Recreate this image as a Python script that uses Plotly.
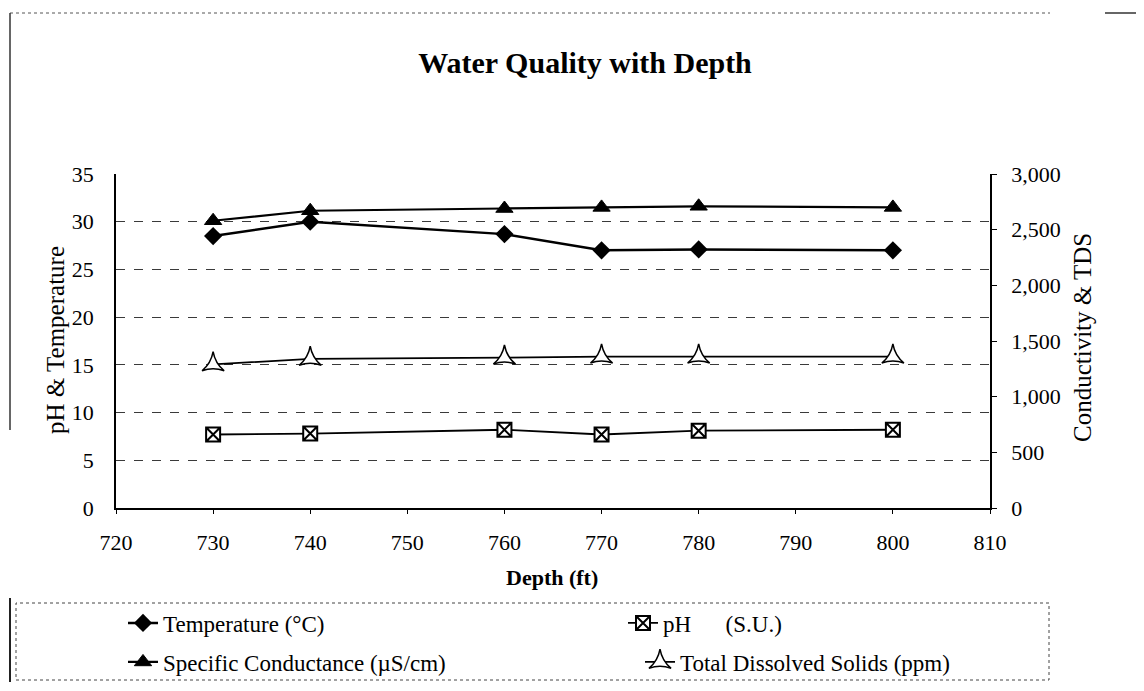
import plotly.graph_objects as go

depth = [730, 740, 760, 770, 780, 800]
temperature = [28.5, 30.0, 28.7, 27.0, 27.1, 27.0]
ph = [7.7, 7.8, 8.2, 7.7, 8.1, 8.2]
spec_cond = [2580, 2670, 2690, 2700, 2710, 2700]
tds = [1290, 1340, 1350, 1360, 1360, 1360]

FONT = "Liberation Serif, Times New Roman, serif"
OFF = 8  # default body margin of the html page

def f(size):
    return dict(family=FONT, size=size, color="black")

fig = go.Figure()
fig.add_trace(go.Scatter(
    x=depth, y=temperature, name="Temperature (°C)", mode="lines+markers",
    line=dict(color="black", width=2.5),
    marker=dict(symbol="diamond", size=14, color="black"),
    legend="legend"))
fig.add_trace(go.Scatter(
    x=depth, y=ph, name="pH\u00a0\u00a0\u00a0\u00a0\u00a0\u00a0(S.U.)", mode="lines+markers",
    line=dict(color="black", width=1.8),
    marker=dict(symbol="square-x", size=14, color="white", line=dict(color="black", width=2)),
    legend="legend2"))
fig.add_trace(go.Scatter(
    x=depth, y=spec_cond, name="Specific Conductance (µS/cm)", mode="lines+markers",
    line=dict(color="black", width=2.2),
    marker=dict(symbol="triangle-up", size=15, color="black", line=dict(color="black", width=1)),
    yaxis="y2", legend="legend3"))
fig.add_trace(go.Scatter(
    x=depth, y=tds, name="Total Dissolved Solids (ppm)", mode="lines+markers",
    line=dict(color="black", width=1.8),
    marker=dict(symbol="star-triangle-up", size=16, color="white", line=dict(color="black", width=1.5)),
    yaxis="y2", legend="legend4"))

# plot area in screen pixels: x 116..990, y 174..508
L, R, T, B = 116 - OFF, 990 - OFF, 174 - OFF, 508 - OFF
W = R - L
H = B - T
def px(xs):
    return (xs - OFF - L) / W
def py(ys):
    return (B - (ys - OFF)) / H

def leg(text_x, cy):
    return dict(orientation="v", xref="container", yref="container",
                x=(text_x - OFF - 40) / 1144, xanchor="left",
                y=1 - (cy - OFF) / 691, yanchor="middle",
                font=f(23), bgcolor="rgba(0,0,0,0)", borderwidth=0)

fig.update_layout(
    width=1144, height=691,
    margin=dict(l=L, r=1144 - R, t=T, b=691 - B, autoexpand=False),
    paper_bgcolor="white", plot_bgcolor="white",
    font=f(22),
    title=dict(text="<b>Water Quality with Depth</b>", xref="container", x=(585 - OFF) / 1144,
               xanchor="center", yref="container", y=1 - (62 - OFF) / 691, yanchor="middle",
               font=f(30)),
    xaxis=dict(range=[720, 810], dtick=10, tick0=720, showgrid=False,
               showline=True, linecolor="black", linewidth=1.5,
               ticks="outside", ticklen=4, tickcolor="black", ticklabelstandoff=10,
               tickfont=f(22), tickangle=0, zeroline=False),
    yaxis=dict(range=[0, 35], dtick=5, showgrid=True, gridcolor="#3a3a3a", gridwidth=1,
               griddash="dash",
               showline=True, linecolor="black", linewidth=1.5,
               ticks="", ticklabelstandoff=16, tickfont=f(22), zeroline=False),
    yaxis2=dict(range=[0, 3000], dtick=500, tickformat=",", overlaying="y", side="right",
                showgrid=False, showline=True, linecolor="black", linewidth=1.5,
                ticks="outside", ticklen=5, tickcolor="black", ticklabelstandoff=10,
                tickfont=f(22), zeroline=False),
    legend=leg(163, 623),
    legend2=leg(663, 623),
    legend3=leg(163, 662),
    legend4=leg(680, 662),
    showlegend=True,
)

# axis titles
fig.add_annotation(text="<b>Depth (ft)</b>", xref="paper", yref="paper",
                   x=px(552), y=py(577), xanchor="center", yanchor="middle",
                   showarrow=False, font=f(22))
fig.add_annotation(text="pH & Temperature", xref="paper", yref="paper",
                   x=px(55), y=py(340), xanchor="center", yanchor="middle", textangle=-90,
                   showarrow=False, font=f(25))
fig.add_annotation(text="Conductivity & TDS", xref="paper", yref="paper",
                   x=px(1082), y=py(338), xanchor="center", yanchor="middle", textangle=-90,
                   showarrow=False, font=f(25))

# legend frame
fig.add_shape(type="rect", xref="paper", yref="paper",
              x0=px(16), x1=px(1049), y0=py(680), y1=py(603),
              line=dict(color="#444444", width=1, dash="dot"))
fig.add_shape(type="line", xref="paper", yref="paper",
              x0=px(10), x1=px(10), y0=py(598), y1=py(682),
              line=dict(color="#222222", width=2))
# outer chart frame fragments
fig.add_shape(type="line", xref="paper", yref="paper",
              x0=px(10), x1=px(1050), y0=py(13), y1=py(13),
              line=dict(color="#555555", width=1, dash="dot"))
fig.add_shape(type="line", xref="paper", yref="paper",
              x0=px(1105), x1=px(1140), y0=py(13), y1=py(13),
              line=dict(color="#333333", width=1.5))
fig.add_shape(type="line", xref="paper", yref="paper",
              x0=px(10), x1=px(10), y0=py(13), y1=py(430),
              line=dict(color="#333333", width=1.5))

fig.write_html("out.html")
